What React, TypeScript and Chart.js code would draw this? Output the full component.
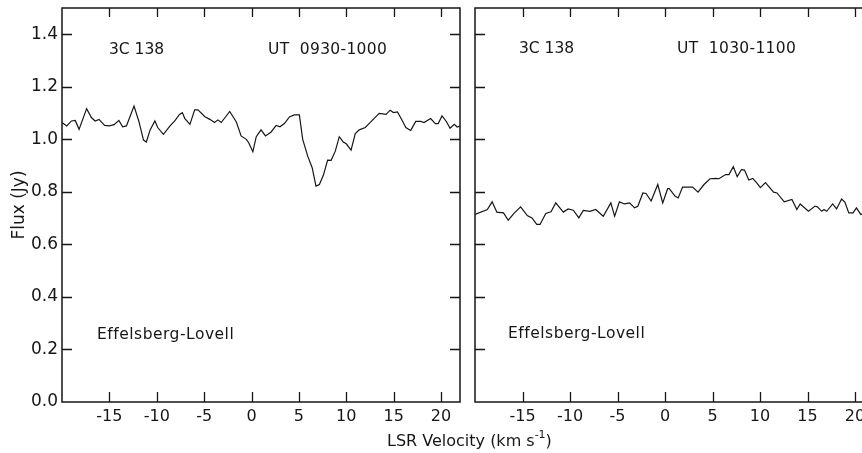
import React, { useEffect, useRef } from 'react';
import { Chart, registerables } from 'chart.js';

Chart.register(...registerables);

// ---- data ----
const VEL_A = [-20, -19.5, -19, -18.6, -18.2, -17.4, -16.9, -16.5, -16.1, -15.5, -15, -14.5, -14, -13.6, -13.2, -12.4, -11.9, -11.4, -11.1, -10.7, -10.2, -9.9, -9.3, -8.6, -8.1, -7.6, -7.3, -7.05, -6.5, -6, -5.65, -4.95, -4.4, -3.9, -3.55, -3.2, -2.3, -1.6, -1.1, -0.55, -0.3, 0.14, 0.5, 1.0, 1.47, 2.07, 2.6, 3.0, 3.47, 4.0, 4.5, 5.05, 5.4, 5.93, 6.4, 6.8, 7.16, 7.58, 8.03, 8.4, 8.84, 9.26, 9.68, 10.0, 10.5, 10.95, 11.37, 12.0, 12.4, 12.95, 13.47, 14.2, 14.63, 14.98, 15.4, 15.93, 16.28, 16.8, 17.33, 17.86, 18.2, 18.9, 19.4, 19.7, 20.1, 20.56, 20.95, 21.4, 21.7, 22];
const FLUX_A = [1.064, 1.051, 1.070, 1.072, 1.038, 1.117, 1.083, 1.070, 1.076, 1.053, 1.051, 1.056, 1.072, 1.048, 1.051, 1.127, 1.070, 0.997, 0.990, 1.036, 1.070, 1.045, 1.019, 1.051, 1.070, 1.095, 1.102, 1.080, 1.057, 1.112, 1.112, 1.087, 1.076, 1.064, 1.074, 1.064, 1.106, 1.066, 1.013, 1.000, 0.987, 0.953, 1.010, 1.036, 1.013, 1.028, 1.053, 1.048, 1.060, 1.085, 1.093, 1.093, 1.000, 0.936, 0.892, 0.822, 0.828, 0.863, 0.921, 0.920, 0.955, 1.010, 0.990, 0.983, 0.959, 1.022, 1.036, 1.045, 1.060, 1.080, 1.099, 1.095, 1.111, 1.102, 1.104, 1.070, 1.045, 1.034, 1.068, 1.068, 1.064, 1.079, 1.060, 1.060, 1.089, 1.068, 1.042, 1.057, 1.047, 1.050];

const VEL_B = [-20, -18.7, -18.2, -17.7, -17.0, -16.5, -15.9, -15.2, -14.5, -14.0, -13.5, -13.15, -12.55, -12.0, -11.5, -10.7, -10.2, -9.65, -9.07, -8.6, -7.9, -7.3, -6.5, -5.7, -5.3, -4.8, -4.26, -3.73, -3.2, -2.86, -2.33, -2.0, -1.46, -0.76, -0.24, 0.28, 0.45, 1.05, 1.39, 1.85, 2.9, 3.48, 4.11, 4.74, 5.33, 5.68, 6.38, 6.73, 7.19, 7.6, 8.05, 8.37, 8.82, 9.24, 9.7, 10.04, 10.57, 11.43, 11.79, 12.55, 13.36, 13.88, 14.23, 15.1, 15.8, 16.04, 16.5, 16.74, 17.02, 17.65, 18.06, 18.59, 18.93, 19.35, 19.8, 20.15, 20.61, 21.2, 21.8];
const FLUX_B = [0.714, 0.733, 0.762, 0.723, 0.720, 0.692, 0.718, 0.743, 0.710, 0.701, 0.676, 0.676, 0.718, 0.724, 0.758, 0.723, 0.735, 0.730, 0.701, 0.729, 0.726, 0.733, 0.707, 0.758, 0.707, 0.762, 0.754, 0.758, 0.739, 0.745, 0.796, 0.794, 0.765, 0.828, 0.758, 0.812, 0.812, 0.784, 0.777, 0.818, 0.818, 0.799, 0.828, 0.850, 0.851, 0.850, 0.866, 0.866, 0.896, 0.858, 0.885, 0.883, 0.845, 0.851, 0.832, 0.816, 0.835, 0.799, 0.796, 0.762, 0.771, 0.733, 0.754, 0.726, 0.746, 0.743, 0.726, 0.733, 0.726, 0.754, 0.735, 0.773, 0.761, 0.720, 0.720, 0.739, 0.714, 0.722, 0.710];

const X_TICKS = [-15, -10, -5, 0, 5, 10, 15, 20];
const X_TICK_LABELS = ['-15', '-10', '-5', '0', '5', '10', '15', '20'];
const Y_TICKS = [0, 0.2, 0.4, 0.6, 0.8, 1.0, 1.2, 1.4];
const Y_TICK_LABELS = ['0.0', '0.2', '0.4', '0.6', '0.8', '1.0', '1.2', '1.4'];

const SOURCE = '3C 138';
const UT_A = 'UT  0930-1000';
const UT_B = 'UT  1030-1100';
const BASELINE = 'Effelsberg-Lovell';
const Y_TITLE = 'Flux (Jy)';

const FONT = '"DejaVu Sans", sans-serif';
const INK = '#161616';

type Note = { t: string; dx: number; by: number; ls?: number };

function makeFrame(notes: Note[]) {
  return {
    id: 'frame',
    afterDraw(chart: any) {
      const { ctx, chartArea } = chart;
      const { left, right, top, bottom } = chartArea;
      const xs = chart.scales.x;
      const ys = chart.scales.y;
      ctx.save();
      ctx.strokeStyle = INK;
      ctx.lineWidth = 1.5;
      ctx.strokeRect(left, top, right - left, bottom - top);
      ctx.lineWidth = 1.3;
      ctx.beginPath();
      X_TICKS.forEach((v) => {
        const px = Math.round(xs.getPixelForValue(v)) + 0.5;
        ctx.moveTo(px, bottom);
        ctx.lineTo(px, bottom - 10);
        ctx.moveTo(px, top);
        ctx.lineTo(px, top + 9);
      });
      Y_TICKS.filter((v) => v > 0).forEach((v) => {
        const py = Math.round(ys.getPixelForValue(v)) + 0.5;
        ctx.moveTo(left, py);
        ctx.lineTo(left + 10, py);
        ctx.moveTo(right, py);
        ctx.lineTo(right - 10, py);
      });
      ctx.stroke();
      ctx.fillStyle = INK;
      ctx.font = '15.5px ' + FONT;
      ctx.textAlign = 'left';
      ctx.textBaseline = 'alphabetic';
      notes.forEach((n) => {
        (ctx as any).letterSpacing = (n.ls || 0) + 'px';
        ctx.fillText(n.t, left + n.dx, top + n.by);
      });
      (ctx as any).letterSpacing = '0px';
      ctx.restore();
    },
  };
}

function makeConfig(vel: number[], flux: number[], showY: boolean, pad: any, notes: Note[]): any {
  return {
    type: 'line',
    data: {
      datasets: [
        {
          data: vel.map((v, i) => ({ x: v, y: flux[i] })),
          borderColor: INK,
          borderWidth: 1.2,
          pointRadius: 0,
          tension: 0,
          fill: false,
        },
      ],
    },
    options: {
      responsive: false,
      animation: false,
      devicePixelRatio: 1,
      layout: { padding: pad },
      plugins: { legend: { display: false }, tooltip: { enabled: false } },
      scales: {
        x: {
          type: 'linear',
          min: -20,
          max: 22,
          grid: { display: false, drawTicks: false },
          border: { display: false },
          afterBuildTicks: (s: any) => {
            s.ticks = X_TICKS.map((value) => ({ value }));
          },
          afterFit: (s: any) => {
            s.height = 51;
            s.paddingLeft = 0;
            s.paddingRight = 0;
            s.paddingTop = 0;
            s.paddingBottom = 0;
          },
          ticks: {
            autoSkip: false,
            maxRotation: 0,
            minRotation: 0,
            padding: 5,
            color: INK,
            font: { family: FONT, size: 16 },
            callback: (_v: any, i: number) => X_TICK_LABELS[i],
          },
        },
        y: {
          type: 'linear',
          display: showY,
          min: 0,
          max: 1.5,
          grid: { display: false, drawTicks: false },
          border: { display: false },
          afterBuildTicks: (s: any) => {
            s.ticks = Y_TICKS.map((value) => ({ value }));
          },
          afterFit: (s: any) => {
            s.width = showY ? 62 : 0;
            s.paddingLeft = 0;
            s.paddingRight = 0;
            s.paddingTop = 0;
            s.paddingBottom = 0;
          },
          title: {
            display: true,
            text: Y_TITLE,
            color: INK,
            font: { family: FONT, size: 17 },
            padding: { top: 9, bottom: 0 },
          },
          ticks: {
            padding: 4,
            color: INK,
            font: { family: FONT, size: 17 },
            callback: (_v: any, i: number) => Y_TICK_LABELS[i],
          },
        },
      },
    },
    plugins: [makeFrame(notes)],
  };
}

export default function App() {
  const refA = useRef<HTMLCanvasElement>(null);
  const refB = useRef<HTMLCanvasElement>(null);

  useEffect(() => {
    const a = new Chart(
      refA.current as HTMLCanvasElement,
      makeConfig(VEL_A, FLUX_A, true, { left: 0, top: 8, right: 10, bottom: 0 }, [
        { t: SOURCE, dx: 47, by: 46 },
        { t: UT_A, dx: 206, by: 46, ls: 0.3 },
        { t: BASELINE, dx: 35, by: 331, ls: 0.5 },
      ])
    );
    const b = new Chart(
      refB.current as HTMLCanvasElement,
      makeConfig(VEL_B, FLUX_B, false, { left: 9, top: 8, right: 12, bottom: 0 }, [
        { t: SOURCE, dx: 44, by: 45 },
        { t: UT_B, dx: 202, by: 45, ls: 0.3 },
        { t: BASELINE, dx: 33, by: 330, ls: 0.5 },
      ])
    );
    return () => {
      a.destroy();
      b.destroy();
    };
  }, []);

  return (
    <div
      style={{
        position: 'fixed',
        left: 0,
        top: 0,
        width: 862,
        height: 453,
        overflow: 'hidden',
        background: '#fff',
      }}
    >
      <canvas
        ref={refA}
        width={470}
        height={453}
        style={{ position: 'absolute', left: 0, top: 0, width: 470, height: 453 }}
      />
      <canvas
        ref={refB}
        width={420}
        height={453}
        style={{ position: 'absolute', left: 466, top: 0, width: 420, height: 453 }}
      />
      <div
        style={{
          position: 'absolute',
          left: 387,
          top: 431,
          fontFamily: FONT,
          fontSize: 16,
          lineHeight: '20px',
          color: INK,
          whiteSpace: 'nowrap',
        }}
      >
        LSR Velocity (km s
        <span style={{ position: 'relative', top: -8, fontSize: 11 }}>-1</span>)
      </div>
    </div>
  );
}
